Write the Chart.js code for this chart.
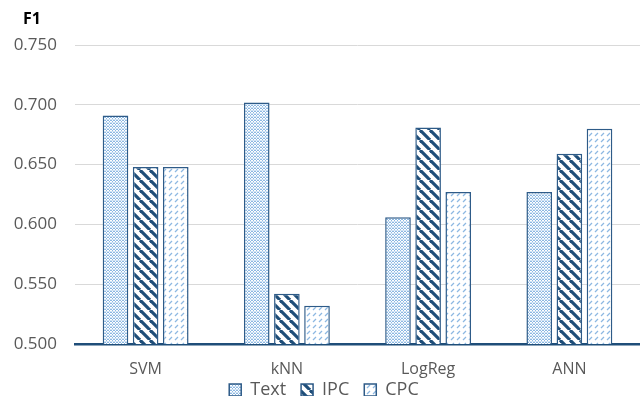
<!DOCTYPE html>
<html>
<head>
<meta charset="utf-8">
<script src="https://cdn.jsdelivr.net/npm/chart.js@4"></script>
<style>
  html, body { margin: 0; padding: 0; background: #fff; overflow: hidden; }
  #wrap { width: 640px; height: 409px; }
</style>
</head>
<body>
<div id="wrap"><canvas id="chart" width="640" height="409"></canvas></div>
<script>
// Data
const CATEGORIES = ["SVM", "kNN", "LogReg", "ANN"];
const TEXT_F1 = [0.691, 0.702, 0.606, 0.627];
const IPC_F1  = [0.648, 0.542, 0.681, 0.659];
const CPC_F1  = [0.648, 0.532, 0.627, 0.680];
const Y_TICKS = [0.500, 0.550, 0.600, 0.650, 0.700, 0.750];

const DARK = "#1f4e79";
const EDGE = "#2e5b88";
const LIGHT = "#8db8e2";

// Small tiles for the pattern fills
function tile(w, h, draw) {
  const c = document.createElement("canvas");
  c.width = w; c.height = h;
  const g = c.getContext("2d");
  g.fillStyle = "#fff";
  g.fillRect(0, 0, w, h);
  draw(g);
  return document.createElement("canvas").getContext("2d").createPattern(c, "repeat");
}

const dotted = tile(3, 3, g => {
  g.fillStyle = LIGHT;
  g.fillRect(0, 0, 1, 1);
  g.fillRect(2, 0, 1, 1);
  g.fillRect(1, 1, 1, 1);
  g.fillStyle = "#d2e4f5";
  g.fillRect(0, 2, 3, 1);
});

const stripes = tile(10, 10, g => {
  g.strokeStyle = DARK;
  g.lineWidth = 3.2;
  for (const o of [-10, 0, 10]) {
    g.beginPath();
    g.moveTo(o, 0);
    g.lineTo(o + 10, 10);
    g.stroke();
  }
});

const dashes = tile(6, 6, g => {
  g.strokeStyle = LIGHT;
  g.lineWidth = 1.2;
  g.beginPath();
  g.moveTo(1, 4);
  g.lineTo(4, 1);
  g.stroke();
});

// "F1" label above the y axis
const f1Label = {
  id: "f1Label",
  afterDraw(chart) {
    const ctx = chart.ctx;
    ctx.save();
    ctx.font = "bold 16px 'Open Sans', sans-serif";
    ctx.fillStyle = "#000";
    ctx.textAlign = "left";
    ctx.textBaseline = "middle";
    ctx.fillText("F1", 23, 19);
    ctx.restore();
  },
};

const barBase = {
  borderColor: EDGE,
  borderWidth: 1.5,
  borderSkipped: "bottom",
  categoryPercentage: 0.64,
  barPercentage: 0.85,
};

new Chart(document.getElementById("chart"), {
  type: "bar",
  data: {
    labels: CATEGORIES,
    datasets: [
      { label: "Text", data: TEXT_F1, backgroundColor: dotted, ...barBase },
      { label: "IPC",  data: IPC_F1,  backgroundColor: stripes, ...barBase },
      { label: "CPC",  data: CPC_F1,  backgroundColor: dashes, ...barBase },
    ],
  },
  options: {
    responsive: false,
    animation: false,
    // plot runs slightly past the right edge, as in the original
    layout: { padding: { top: 45, right: -8, bottom: 0, left: 0 } },
    plugins: {
      legend: {
        position: "bottom",
        labels: {
          boxWidth: 12,
          boxHeight: 12,
          padding: 15,
          font: { family: "'Open Sans', sans-serif", size: 18 },
          color: "#595959",
        },
      },
      tooltip: { enabled: false },
    },
    scales: {
      x: {
        grid: { display: false, drawTicks: false },
        border: { display: true, color: DARK, width: 2.5 },
        ticks: { font: { family: "'Open Sans', sans-serif", size: 16 }, color: "#595959", padding: 16 },
        // tight axis box so the legend sits close under the labels; labels are not clipped
        afterFit: axis => {
          axis.height = 22;
          axis._computeLabelArea = () => undefined;
        },
      },
      y: {
        min: 0.5,
        max: 0.75,
        afterBuildTicks: axis => { axis.ticks = Y_TICKS.map(v => ({ value: v })); },
        afterFit: axis => { axis.width = 75; },
        ticks: {
          callback: v => v.toFixed(3),
          font: { family: "'Open Sans', sans-serif", size: 17 },
          color: "#595959",
          padding: 18,
        },
        grid: { color: "#d9d9d9", drawTicks: false },
        border: { display: false },
      },
    },
  },
  plugins: [f1Label],
});
</script>
</body>
</html>
